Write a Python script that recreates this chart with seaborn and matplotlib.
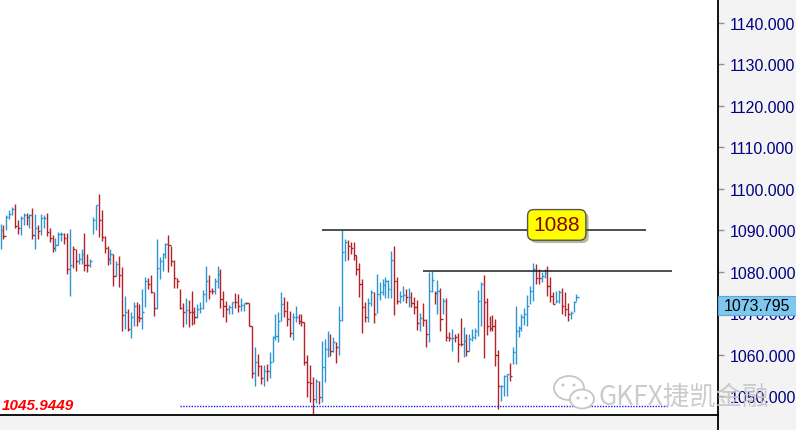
import matplotlib
matplotlib.use("Agg")
import matplotlib.pyplot as plt
import matplotlib.transforms as mtransforms
import matplotlib.patheffects as pe
from matplotlib.patches import Rectangle, Ellipse
from matplotlib.lines import Line2D
import pandas as pd
import seaborn as sns

# bar data (high / low / close, u = up bar, d = down bar)
highs = [
    1091.6, 1091.3, 1093.6, 1094.8, 1095.6, 1096.4, 1092.4, 1093.4, 1094.2, 1094.2,
    1094.0, 1095.3, 1094.0, 1091.2, 1094.0, 1093.7, 1094.2, 1090.5, 1088.9, 1088.1,
    1089.7, 1089.7, 1089.4, 1089.4, 1090.4, 1086.3, 1085.5, 1084.6, 1085.5, 1089.4,
    1084.3, 1083.1, 1093.2, 1096.1, 1098.8, 1095.0, 1088.6, 1086.2, 1085.5, 1084.3,
    1082.5, 1083.8, 1081.1, 1074.1, 1071.1, 1070.4, 1072.8, 1072.7, 1072.3, 1075.9,
    1078.7, 1078.5, 1079.2, 1075.2, 1087.9, 1083.5, 1084.5, 1086.9, 1088.9, 1086.3,
    1082.9, 1078.4, 1075.8, 1072.5, 1073.6, 1073.3, 1075.4, 1071.4, 1072.2, 1072.8,
    1075.7, 1081.5, 1079.2, 1076.2, 1078.4, 1081.3, 1080.7, 1075.4, 1073.0, 1072.0,
    1072.8, 1074.9, 1074.6, 1073.6, 1072.5, 1072.6, 1072.5, 1067.0, 1061.8, 1060.2,
    1057.4, 1057.4, 1057.7, 1060.6, 1064.4, 1069.8, 1070.2, 1075.2, 1073.8, 1073.0,
    1070.5, 1070.0, 1071.8, 1069.7, 1069.7, 1067.8, 1060.0, 1057.4, 1054.5, 1054.1,
    1053.7, 1063.4, 1063.8, 1065.6, 1065.0, 1064.3, 1063.0, 1071.8, 1090.1, 1087.9,
    1087.7, 1087.1, 1087.1, 1084.1, 1082.0, 1078.3, 1072.6, 1073.7, 1075.6, 1075.0,
    1079.5, 1077.5, 1078.3, 1078.8, 1078.0, 1085.1, 1086.1, 1078.8, 1075.4, 1076.6,
    1075.8, 1076.1, 1075.0, 1074.0, 1073.2, 1070.0, 1072.4, 1068.6, 1080.0, 1080.3,
    1075.4, 1077.9, 1076.0, 1073.6, 1073.6, 1065.4, 1066.2, 1065.0, 1065.2, 1068.8,
    1066.6, 1065.0, 1065.0, 1066.2, 1066.4, 1075.7, 1077.6, 1079.1, 1073.6, 1069.4,
    1069.6, 1068.6, 1061.2, 1052.7, 1055.1, 1055.3, 1058.0, 1061.8, 1071.8, 1066.8,
    1069.8, 1071.2, 1074.4, 1076.6, 1082.1, 1081.9, 1080.7, 1079.9, 1080.7, 1081.5,
    1078.7, 1075.2, 1075.4, 1075.7, 1076.0, 1075.0, 1072.5, 1070.6, 1073.0, 1074.6,
]
lows = [
    1085.5, 1087.8, 1090.0, 1092.8, 1093.6, 1090.5, 1089.2, 1088.9, 1091.2, 1091.2,
    1090.5, 1088.0, 1085.4, 1088.0, 1088.9, 1090.5, 1088.7, 1087.1, 1084.7, 1084.9,
    1086.5, 1087.5, 1086.7, 1079.5, 1074.1, 1080.9, 1080.1, 1081.9, 1081.9, 1080.3,
    1079.9, 1081.1, 1089.1, 1090.0, 1088.3, 1087.3, 1084.6, 1081.7, 1081.9, 1076.5,
    1078.9, 1076.3, 1065.6, 1066.2, 1065.6, 1064.0, 1067.0, 1067.0, 1068.0, 1066.1,
    1071.5, 1075.9, 1074.9, 1069.4, 1070.9, 1078.3, 1080.3, 1083.2, 1079.9, 1081.5,
    1076.2, 1076.2, 1071.0, 1066.6, 1067.4, 1066.6, 1067.2, 1067.4, 1068.8, 1070.1,
    1070.9, 1072.8, 1073.4, 1074.6, 1074.6, 1076.0, 1071.2, 1069.0, 1067.8, 1069.8,
    1069.8, 1071.2, 1070.4, 1070.6, 1070.6, 1072.3, 1067.0, 1054.3, 1052.4, 1054.9,
    1052.9, 1052.5, 1053.7, 1054.3, 1058.3, 1063.6, 1063.0, 1068.2, 1069.2, 1067.0,
    1064.2, 1063.6, 1067.8, 1067.4, 1067.0, 1057.6, 1049.9, 1048.5, 1045.7, 1048.3,
    1048.1, 1048.7, 1053.3, 1059.5, 1059.8, 1060.6, 1057.9, 1060.0, 1068.1, 1082.5,
    1082.8, 1084.4, 1082.8, 1079.3, 1074.0, 1065.2, 1067.8, 1067.8, 1071.8, 1067.6,
    1070.0, 1073.2, 1074.5, 1073.7, 1073.7, 1073.7, 1069.6, 1072.2, 1072.4, 1073.0,
    1072.4, 1071.4, 1071.6, 1069.7, 1066.0, 1065.6, 1066.8, 1061.8, 1063.0, 1075.2,
    1072.2, 1069.8, 1065.6, 1069.8, 1063.2, 1063.4, 1061.0, 1063.0, 1058.2, 1062.2,
    1059.4, 1059.8, 1061.0, 1063.4, 1063.8, 1064.4, 1067.0, 1059.1, 1064.7, 1065.8,
    1065.8, 1057.2, 1046.8, 1048.9, 1050.1, 1050.0, 1053.7, 1057.8, 1057.8, 1064.2,
    1065.8, 1067.2, 1067.0, 1072.2, 1073.0, 1077.0, 1077.0, 1077.5, 1078.4, 1074.2,
    1072.6, 1072.2, 1072.5, 1072.5, 1069.8, 1069.4, 1068.2, 1068.6, 1070.2, 1073.0,
]
closes = [
    1090.0, 1088.6, 1093.2, 1094.0, 1095.2, 1091.0, 1090.5, 1092.9, 1093.6, 1093.2,
    1093.7, 1088.9, 1090.5, 1089.8, 1092.9, 1092.9, 1089.7, 1088.1, 1085.7, 1086.5,
    1089.1, 1089.1, 1088.1, 1080.7, 1081.7, 1085.5, 1082.7, 1083.0, 1084.3, 1081.7,
    1081.7, 1082.5, 1092.4, 1096.1, 1092.4, 1088.3, 1085.7, 1083.0, 1084.3, 1078.9,
    1081.9, 1079.3, 1069.6, 1070.3, 1066.2, 1069.0, 1071.7, 1069.0, 1068.8, 1070.4,
    1077.7, 1077.1, 1075.0, 1071.2, 1080.8, 1082.5, 1084.3, 1086.7, 1086.5, 1082.7,
    1078.4, 1077.7, 1071.2, 1070.2, 1070.7, 1070.2, 1070.2, 1069.0, 1070.9, 1071.3,
    1074.6, 1077.8, 1075.4, 1075.4, 1077.8, 1079.5, 1073.4, 1071.7, 1071.0, 1071.4,
    1072.6, 1072.6, 1071.7, 1072.0, 1072.5, 1072.5, 1067.0, 1055.5, 1058.2, 1057.2,
    1054.3, 1056.1, 1056.1, 1058.3, 1064.2, 1064.4, 1068.2, 1072.2, 1070.6, 1068.6,
    1065.2, 1069.0, 1069.2, 1068.1, 1067.8, 1058.2, 1053.3, 1053.1, 1049.3, 1053.6,
    1049.9, 1057.1, 1061.4, 1061.4, 1060.8, 1063.0, 1061.8, 1068.4, 1084.7, 1087.1,
    1086.3, 1085.7, 1084.1, 1080.7, 1077.1, 1071.4, 1069.0, 1072.4, 1075.0, 1069.8,
    1074.6, 1075.0, 1076.9, 1077.7, 1075.8, 1082.8, 1077.7, 1072.9, 1074.2, 1074.5,
    1074.0, 1074.0, 1072.4, 1071.4, 1067.6, 1068.8, 1068.4, 1065.0, 1075.4, 1078.1,
    1074.9, 1075.4, 1068.5, 1073.0, 1064.2, 1064.0, 1064.0, 1064.2, 1062.6, 1062.6,
    1063.4, 1061.0, 1063.8, 1064.2, 1065.8, 1073.0, 1077.1, 1072.8, 1066.8, 1066.4,
    1067.0, 1059.9, 1052.5, 1052.4, 1054.9, 1055.3, 1054.8, 1060.6, 1065.8, 1066.4,
    1069.0, 1069.8, 1071.7, 1075.4, 1080.7, 1078.4, 1078.4, 1078.9, 1079.7, 1076.5,
    1074.2, 1072.2, 1073.0, 1075.2, 1071.7, 1071.0, 1069.8, 1070.1, 1072.8, 1073.8,
]
moves = ("uduuu" "dduud" "ududu" "udddu" "uuddu" "dduud" "duuud" "dddud"
         "uddud" "uuddu" "udddu" "uuudd" "ddddu" "ddduu" "uuddu" "udddu"
         "udduu" "dddud" "duduu" "uuudd" "duudd" "ddddu" "duuud" "uduuu"
         "ddddd" "dduud" "uuuuu" "udduu" "duddd" "udduu" "dudud" "duddd"
         "uduuu" "uuddd" "ddduu" "uduuu" "uuuuu" "dduud" "dduud" "dduuu")

# levels and labels
upper_level = 1090.07
upper_span = (111.1, 223.0)
lower_level = 1080.18
lower_span = (146.0, 232.0)
support_level = 1047.62
support_span = (62.0, 230.7)
target_text = "1088"
low_text = "1045.9449"
last_price = 1073.795
y_ticks = [1050, 1060, 1070, 1080, 1090, 1100, 1110, 1120, 1130, 1140]

sns.set_theme(style="white")
plt.rcParams['font.family'] = ['Liberation Sans', 'DejaVu Sans']

bars = pd.DataFrame({"bar": range(len(closes)), "high": highs, "low": lows,
                     "close": closes, "move": list(moves)})
palette = {"u": "#2b96d2", "d": "#b22228"}

fig = plt.figure(figsize=(7.96, 4.31), dpi=100, facecolor="#f3f3f3")
ax = fig.add_axes([0, 15 / 431, 718 / 796, 416 / 431])
ax.set_facecolor("white")

for move, grp in bars.groupby("move"):
    ax.vlines(grp["bar"], grp["low"], grp["high"], color=palette[move], lw=1.0)
    ax.hlines(grp["close"], grp["bar"], grp["bar"] + 0.75, color=palette[move], lw=1.0)

# trend lines
ax.hlines(upper_level, *upper_span, color="#1e1e1e", lw=1.1)
ax.hlines(lower_level, *lower_span, color="#1e1e1e", lw=1.1)
ax.hlines(support_level, *support_span, color="#1a1aff", lw=1.0, linestyles=(0, (1, 1)))

t = ax.text(192.2, 1091.3, target_text, ha="center", va="center", fontsize=15,
            color="#8b0000", zorder=6,
            bbox=dict(boxstyle="round,pad=0.28,rounding_size=0.3", fc="#ffff00",
                      ec="#555555", lw=1.0))
t.get_bbox_patch().set_path_effects([pe.SimplePatchShadow(offset=(2, -2), alpha=0.4),
                                     pe.Normal()])

ax.set_xlim(-0.173, 247.93)
ax.set_ylim(1045.45, 1145.79)
ax.set_xticks([])
ax.set_yticks(y_ticks)
ax.set_yticklabels([f"{v:.3f}" for v in y_ticks])
ax.yaxis.tick_right()
ax.tick_params(axis="y", right=True, left=False, labelright=True, labelleft=False,
               direction="out", length=4, width=1, color="#909090",
               labelcolor="#000080", labelsize=11.4, pad=4.3)
for side in ["top", "left"]:
    ax.spines[side].set_visible(False)
for side in ["right", "bottom"]:
    ax.spines[side].set_color("black")
    ax.spines[side].set_linewidth(1.3)
fig.add_artist(Line2D([718 / 796, 718 / 796], [0, 15 / 431], color="black", lw=1.3,
                      transform=fig.transFigure))

# current price box on the axis
trans = mtransforms.blended_transform_factory(ax.transAxes, ax.transData)
ax.add_patch(Rectangle((1.0, last_price - 4.3), 0.11, 4.65, transform=trans,
                       facecolor="#7ec8f0", edgecolor="#5aa8d8", lw=0.8,
                       clip_on=False, zorder=5))
ax.text(1.054, last_price - 1.95, f"{last_price:.3f}", transform=trans, ha="center",
        va="center", fontsize=11.4, color="black", zorder=6, clip_on=False)

ax.text(0.002, 1047.9, low_text, transform=trans, ha="left", va="center",
        fontsize=11, color="#ff0000", fontweight="bold", fontstyle="italic")

# watermark
wm = "#c6c6c6"
fig.add_artist(Ellipse((569 / 796, 1 - 389 / 431), 30 / 796, 24 / 431,
                       transform=fig.transFigure, fc="none", ec=wm, lw=1.3, zorder=10))
fig.add_artist(Ellipse((582 / 796, 1 - 400 / 431), 24 / 796, 19 / 431,
                       transform=fig.transFigure, fc="white", ec=wm, lw=1.3, zorder=11))
for px, py, z in [(563, 386, 10), (574, 386, 10), (578, 399, 12), (586, 399, 12)]:
    fig.add_artist(Ellipse((px / 796, 1 - py / 431), 3 / 796, 3 / 431,
                           transform=fig.transFigure, fc=wm, ec="none", zorder=z))
fig.text(598 / 796, 1 - 397 / 431, "GKFX捷凯金融", ha="left", va="center",
         fontsize=19, color=wm, alpha=0.9, zorder=12,
         family=["Noto Sans CJK SC", "DejaVu Sans"])

fig.savefig("out.png", dpi=100, facecolor=fig.get_facecolor())
